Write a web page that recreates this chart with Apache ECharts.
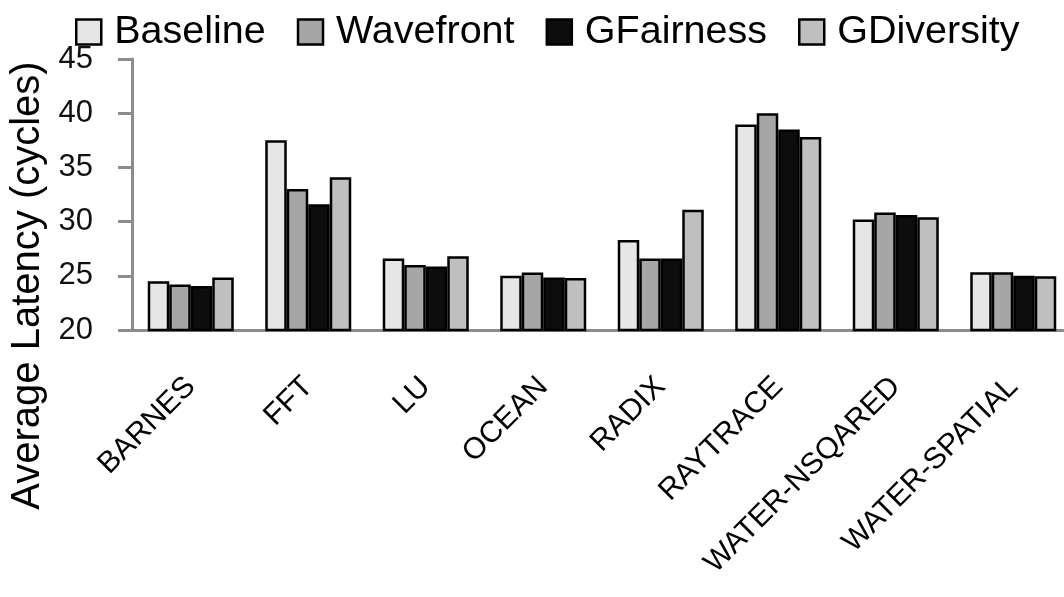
<!DOCTYPE html>
<html>
<head>
<meta charset="utf-8">
<script src="https://cdn.jsdelivr.net/npm/echarts@6/dist/echarts.min.js"></script>
<style>
html,body{margin:0;padding:0;background:#fff;}
#chart{width:1064px;height:597px;}
</style>
</head>
<body>
<div id="chart"></div>
<script>
const categories = ['BARNES','FFT','LU','OCEAN','RADIX','RAYTRACE','WATER-NSQARED','WATER-SPATIAL'];
const baseline   = [24.5, 37.5, 26.6, 25.0, 28.3, 38.95, 30.2, 25.33];
const wavefront  = [24.2, 33.0, 26.0, 25.3, 26.6, 40.0, 30.85, 25.33];
const gfairness  = [24.05, 31.6, 25.85, 24.85, 26.6, 38.5, 30.6, 25.0];
const gdiversity = [24.85, 34.1, 26.8, 24.8, 31.1, 37.8, 30.4, 24.95];
const yTicks = [20, 25, 30, 35, 40, 45];

const font = '"Liberation Sans", Arial, sans-serif';
const seriesDefs = [
  {name:'Baseline', data: baseline, color:'#e6e6e6'},
  {name:'Wavefront', data: wavefront, color:'#a6a6a6'},
  {name:'GFairness', data: gfairness, color:'#0d0d0d'},
  {name:'GDiversity', data: gdiversity, color:'#bfbfbf'}
];

const chart = echarts.init(document.getElementById('chart'), null, {renderer:'canvas'});
chart.setOption({
  animation: false,
  backgroundColor: '#fff',
  grid: {left: 132, width: 940, top: 59, bottom: 267, containLabel: false, outerBoundsMode: 'none'},
  legend: {
    left: 70, top: 7,
    itemWidth: 25, itemHeight: 25, itemGap: 31,
    icon: 'rect',
    itemStyle: {borderColor: '#000', borderWidth: 2.5},
    textStyle: {fontFamily: font, fontSize: 39.5, color: '#000', padding: [0,0,0,8], lineHeight: 40},
    data: seriesDefs.map(s => s.name)
  },
  xAxis: {
    type: 'category',
    data: categories,
    axisLine: {lineStyle: {color: '#8c8c8c', width: 3}},
    axisTick: {show: false},
    axisLabel: {rotate: 45, fontFamily: font, fontSize: 30, color: '#000', margin: 52, interval: 0}
  },
  yAxis: {
    type: 'value',
    min: yTicks[0], max: yTicks[yTicks.length-1], interval: 5,
    name: 'Average Latency (cycles)',
    nameLocation: 'middle',
    nameGap: 70,
    nameTextStyle: {fontFamily: font, fontSize: 40, color: '#000', padding: [0, 182, 0, 0]},
    axisLine: {show: true, lineStyle: {color: '#8c8c8c', width: 3}},
    axisTick: {show: true, inside: false, length: 14, lineStyle: {color: '#8c8c8c', width: 3}},
    splitLine: {show: false},
    axisLabel: {fontFamily: font, fontSize: 31, color: '#111', margin: 39}
  },
  series: seriesDefs.map(s => ({
    name: s.name,
    type: 'bar',
    data: s.data,
    barWidth: 21.5,
    barGap: '0%',
    itemStyle: {color: s.color, borderColor: '#000', borderWidth: 2.5}
  }))
});
</script>
</body>
</html>
